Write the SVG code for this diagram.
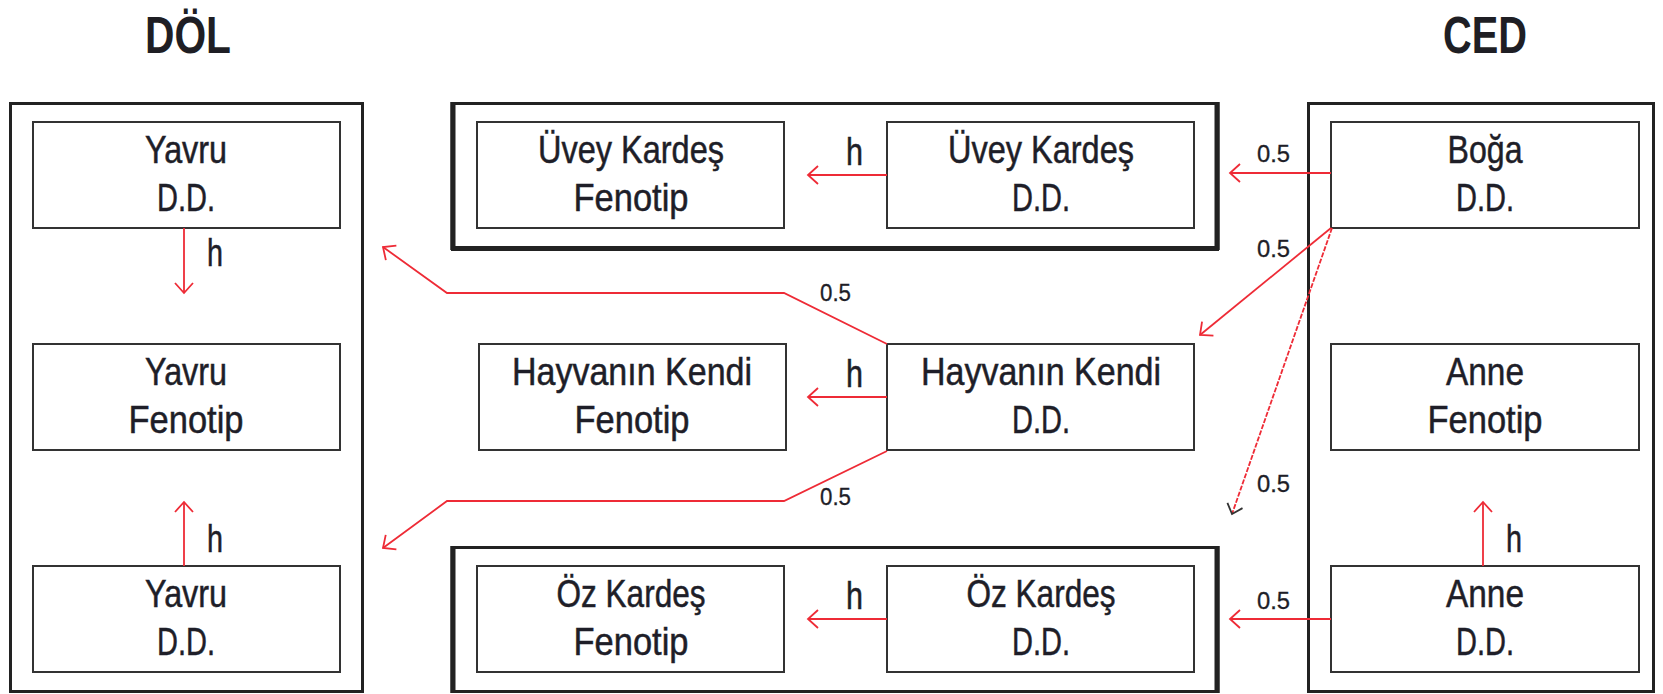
<svg xmlns="http://www.w3.org/2000/svg" width="1663" height="694" viewBox="0 0 1663 694">
  <style>
    .frame { fill: none; stroke: #222; stroke-width: 3; }
    .frame-side { stroke: #222; stroke-width: 5; }
    .box { fill: #fff; stroke: #333; stroke-width: 2; }
    .lbl { font-family: "Liberation Sans", Arial, sans-serif; font-size: 38px; fill: #1e1e28; stroke: #1e1e28; stroke-width: 0.5; text-anchor: middle; }
    .title { font-family: "Liberation Sans", Arial, sans-serif; font-size: 52px; font-weight: bold; fill: #1e1e24; text-anchor: middle; }
    .coef { font-family: "Liberation Sans", Arial, sans-serif; font-size: 23px; fill: #1e1e28; stroke: #1e1e28; stroke-width: 0.3; }
    .hl { font-family: "Liberation Sans", Arial, sans-serif; font-size: 38px; fill: #1e1e28; stroke: #1e1e28; stroke-width: 0.5; }
    .link { fill: none; stroke: #ee2b36; stroke-width: 1.8; marker-end: url(#open); }
    .dashed { stroke-dasharray: 5 1.5; marker-end: url(#openDark); }
  </style>
  <defs>
    <marker id="open" markerUnits="userSpaceOnUse" markerWidth="24" markerHeight="24" viewBox="-14 -12 16 24" refX="0" refY="0" orient="auto">
      <path d="M-10,-9 L0,0 L-10,9" fill="none" stroke="#ee2b36" stroke-width="1.8"/>
    </marker>
    <marker id="openDark" markerUnits="userSpaceOnUse" markerWidth="24" markerHeight="24" viewBox="-14 -12 16 24" refX="0" refY="0" orient="auto">
      <path d="M-9,-8 L0,0 L-9,8" fill="none" stroke="#333" stroke-width="1.8"/>
    </marker>
  </defs>

  <rect width="1663" height="694" fill="#fff"/>

  <!-- column titles -->
  <text class="title" x="188" y="53" textLength="86" lengthAdjust="spacingAndGlyphs">DÖL</text>
  <text class="title" x="1485" y="53" textLength="84" lengthAdjust="spacingAndGlyphs">CED</text>

  <!-- enclosing frames -->
  <g id="frame-dol">
    <rect class="frame" x="10.5" y="103.5" width="352" height="588"/>
  </g>
  <g id="frame-uvey">
    <rect class="frame" x="452" y="103.5" width="766" height="145"/>
    <line class="frame-side" x1="453" y1="102" x2="453" y2="250"/>
    <line class="frame-side" x1="1217" y1="102" x2="1217" y2="250"/>
    <line class="frame-side" x1="451" y1="248.5" x2="1219" y2="248.5"/>
  </g>
  <g id="frame-oz">
    <rect class="frame" x="452" y="547.5" width="766" height="144"/>
    <line class="frame-side" x1="453" y1="546" x2="453" y2="693"/>
    <line class="frame-side" x1="1217" y1="546" x2="1217" y2="693"/>
  </g>
  <g id="frame-ced">
    <rect class="frame" x="1308.5" y="103.5" width="345" height="588"/>
  </g>

  <!-- DÖL column -->
  <g id="yavru-dd-top">
    <rect class="box" x="33" y="122" width="307" height="106"/>
    <text class="lbl" x="186" y="163" textLength="82" lengthAdjust="spacingAndGlyphs">Yavru</text>
    <text class="lbl" x="186" y="211" textLength="58" lengthAdjust="spacingAndGlyphs">D.D.</text>
  </g>
  <g id="yavru-fenotip">
    <rect class="box" x="33" y="344" width="307" height="106"/>
    <text class="lbl" x="186" y="385" textLength="82" lengthAdjust="spacingAndGlyphs">Yavru</text>
    <text class="lbl" x="186" y="433" textLength="115" lengthAdjust="spacingAndGlyphs">Fenotip</text>
  </g>
  <g id="yavru-dd-bottom">
    <rect class="box" x="33" y="566" width="307" height="106"/>
    <text class="lbl" x="186" y="607" textLength="82" lengthAdjust="spacingAndGlyphs">Yavru</text>
    <text class="lbl" x="186" y="655" textLength="58" lengthAdjust="spacingAndGlyphs">D.D.</text>
  </g>

  <!-- middle column -->
  <g id="uvey-fenotip">
    <rect class="box" x="477" y="122" width="307" height="106"/>
    <text class="lbl" x="631" y="163" textLength="186" lengthAdjust="spacingAndGlyphs">Üvey Kardeş</text>
    <text class="lbl" x="631" y="211" textLength="115" lengthAdjust="spacingAndGlyphs">Fenotip</text>
  </g>
  <g id="uvey-dd">
    <rect class="box" x="887" y="122" width="307" height="106"/>
    <text class="lbl" x="1041" y="163" textLength="186" lengthAdjust="spacingAndGlyphs">Üvey Kardeş</text>
    <text class="lbl" x="1041" y="211" textLength="58" lengthAdjust="spacingAndGlyphs">D.D.</text>
  </g>
  <g id="kendi-fenotip">
    <rect class="box" x="479" y="344" width="307" height="106"/>
    <text class="lbl" x="632" y="385" textLength="240" lengthAdjust="spacingAndGlyphs">Hayvanın Kendi</text>
    <text class="lbl" x="632" y="433" textLength="115" lengthAdjust="spacingAndGlyphs">Fenotip</text>
  </g>
  <g id="kendi-dd">
    <rect class="box" x="887" y="344" width="307" height="106"/>
    <text class="lbl" x="1041" y="385" textLength="240" lengthAdjust="spacingAndGlyphs">Hayvanın Kendi</text>
    <text class="lbl" x="1041" y="433" textLength="58" lengthAdjust="spacingAndGlyphs">D.D.</text>
  </g>
  <g id="oz-fenotip">
    <rect class="box" x="477" y="566" width="307" height="106"/>
    <text class="lbl" x="631" y="607" textLength="149" lengthAdjust="spacingAndGlyphs">Öz Kardeş</text>
    <text class="lbl" x="631" y="655" textLength="115" lengthAdjust="spacingAndGlyphs">Fenotip</text>
  </g>
  <g id="oz-dd">
    <rect class="box" x="887" y="566" width="307" height="106"/>
    <text class="lbl" x="1041" y="607" textLength="149" lengthAdjust="spacingAndGlyphs">Öz Kardeş</text>
    <text class="lbl" x="1041" y="655" textLength="58" lengthAdjust="spacingAndGlyphs">D.D.</text>
  </g>

  <!-- CED column -->
  <g id="boga-dd">
    <rect class="box" x="1331" y="122" width="308" height="106"/>
    <text class="lbl" x="1485" y="163" textLength="75" lengthAdjust="spacingAndGlyphs">Boğa</text>
    <text class="lbl" x="1485" y="211" textLength="58" lengthAdjust="spacingAndGlyphs">D.D.</text>
  </g>
  <g id="anne-fenotip">
    <rect class="box" x="1331" y="344" width="308" height="106"/>
    <text class="lbl" x="1485" y="385" textLength="78" lengthAdjust="spacingAndGlyphs">Anne</text>
    <text class="lbl" x="1485" y="433" textLength="115" lengthAdjust="spacingAndGlyphs">Fenotip</text>
  </g>
  <g id="anne-dd">
    <rect class="box" x="1331" y="566" width="308" height="106"/>
    <text class="lbl" x="1485" y="607" textLength="78" lengthAdjust="spacingAndGlyphs">Anne</text>
    <text class="lbl" x="1485" y="655" textLength="58" lengthAdjust="spacingAndGlyphs">D.D.</text>
  </g>

  <!-- connectors -->
  <g id="connectors">
    <!-- heritability paths -->
    <line class="link" x1="184" y1="228" x2="184" y2="293"/>
    <line class="link" x1="184" y1="566" x2="184" y2="502"/>
    <line class="link" x1="1483" y1="566" x2="1483" y2="502"/>
    <line class="link" x1="887" y1="175" x2="808" y2="175"/>
    <line class="link" x1="887" y1="397" x2="808" y2="397"/>
    <line class="link" x1="887" y1="619" x2="808" y2="619"/>
    <!-- genetic relationship paths -->
    <line class="link" x1="1331" y1="173" x2="1230" y2="173"/>
    <line class="link" x1="1331" y1="619" x2="1230" y2="619"/>
    <line class="link" x1="1331" y1="228" x2="1200" y2="335"/>
    <line class="link dashed" x1="1332" y1="228" x2="1232" y2="514"/>
    <polyline class="link" points="887,344 784,293 447,293 383,247"/>
    <polyline class="link" points="887,451 784,501 447,501 383,548"/>

    <!-- path labels -->
    <text class="hl" x="207" y="266" textLength="16" lengthAdjust="spacingAndGlyphs">h</text>
    <text class="hl" x="207" y="552" textLength="16" lengthAdjust="spacingAndGlyphs">h</text>
    <text class="hl" x="1506" y="552" textLength="16" lengthAdjust="spacingAndGlyphs">h</text>
    <text class="hl" x="846" y="165" textLength="17" lengthAdjust="spacingAndGlyphs">h</text>
    <text class="hl" x="846" y="387" textLength="17" lengthAdjust="spacingAndGlyphs">h</text>
    <text class="hl" x="846" y="609" textLength="17" lengthAdjust="spacingAndGlyphs">h</text>

    <text class="coef" x="1257" y="162" textLength="33" lengthAdjust="spacingAndGlyphs">0.5</text>
    <text class="coef" x="1257" y="257" textLength="33" lengthAdjust="spacingAndGlyphs">0.5</text>
    <text class="coef" x="1257" y="492" textLength="33" lengthAdjust="spacingAndGlyphs">0.5</text>
    <text class="coef" x="1257" y="609" textLength="33" lengthAdjust="spacingAndGlyphs">0.5</text>
    <text class="coef" x="820" y="301" textLength="31" lengthAdjust="spacingAndGlyphs">0.5</text>
    <text class="coef" x="820" y="505" textLength="31" lengthAdjust="spacingAndGlyphs">0.5</text>
  </g>
</svg>
